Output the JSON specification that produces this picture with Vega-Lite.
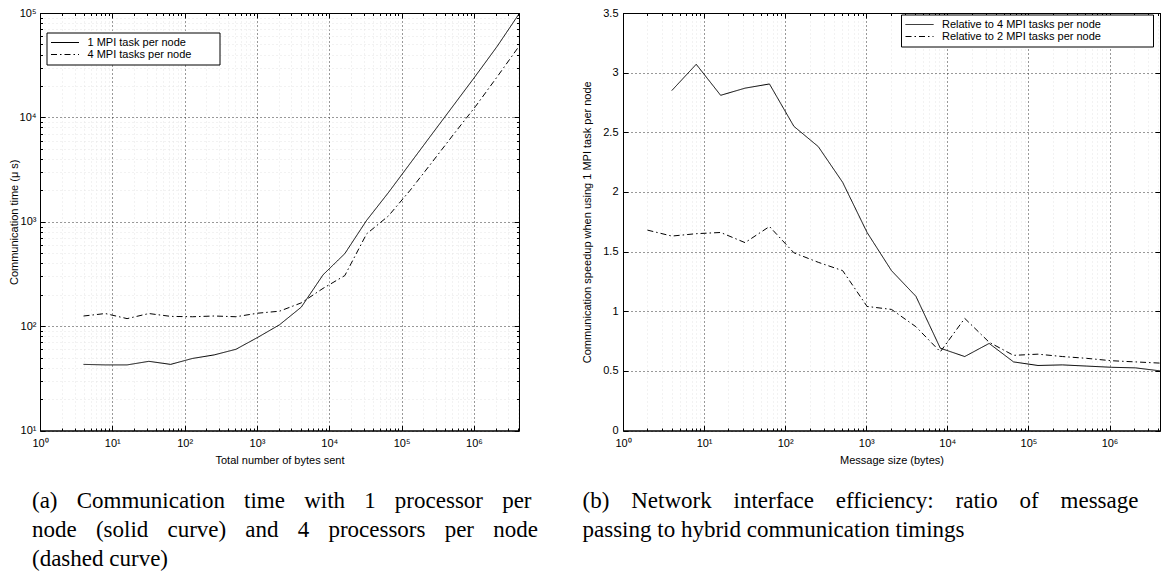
{
  "$schema": "https://vega.github.io/schema/vega-lite/v6.json",
  "background": "white",
  "padding": {"left": 8, "top": 6, "right": 0, "bottom": 4},
  "spacing": 104,
  "bounds": "flush",
  "resolve": {"scale": {"strokeDash": "independent"}, "legend": {"strokeDash": "independent"}},
  "datasets": {
    "timing": [
      {"bytes": 4, "time": 43, "series": "1 MPI task per node"},
      {"bytes": 8, "time": 42.5, "series": "1 MPI task per node"},
      {"bytes": 16, "time": 42.5, "series": "1 MPI task per node"},
      {"bytes": 32, "time": 46, "series": "1 MPI task per node"},
      {"bytes": 64, "time": 43, "series": "1 MPI task per node"},
      {"bytes": 128, "time": 49, "series": "1 MPI task per node"},
      {"bytes": 256, "time": 53, "series": "1 MPI task per node"},
      {"bytes": 512, "time": 60, "series": "1 MPI task per node"},
      {"bytes": 1024, "time": 78, "series": "1 MPI task per node"},
      {"bytes": 2048, "time": 103, "series": "1 MPI task per node"},
      {"bytes": 4096, "time": 152, "series": "1 MPI task per node"},
      {"bytes": 8192, "time": 310, "series": "1 MPI task per node"},
      {"bytes": 16384, "time": 495, "series": "1 MPI task per node"},
      {"bytes": 32768, "time": 1030, "series": "1 MPI task per node"},
      {"bytes": 65536, "time": 1900, "series": "1 MPI task per node"},
      {"bytes": 131072, "time": 3620, "series": "1 MPI task per node"},
      {"bytes": 262144, "time": 6900, "series": "1 MPI task per node"},
      {"bytes": 524288, "time": 13100, "series": "1 MPI task per node"},
      {"bytes": 1048576, "time": 24900, "series": "1 MPI task per node"},
      {"bytes": 2097152, "time": 48000, "series": "1 MPI task per node"},
      {"bytes": 4194304, "time": 98000, "series": "1 MPI task per node"},
      {"bytes": 4, "time": 125, "series": "4 MPI tasks per node"},
      {"bytes": 8, "time": 132, "series": "4 MPI tasks per node"},
      {"bytes": 16, "time": 118, "series": "4 MPI tasks per node"},
      {"bytes": 32, "time": 132, "series": "4 MPI tasks per node"},
      {"bytes": 64, "time": 124, "series": "4 MPI tasks per node"},
      {"bytes": 128, "time": 123, "series": "4 MPI tasks per node"},
      {"bytes": 256, "time": 125, "series": "4 MPI tasks per node"},
      {"bytes": 512, "time": 123, "series": "4 MPI tasks per node"},
      {"bytes": 1024, "time": 133, "series": "4 MPI tasks per node"},
      {"bytes": 2048, "time": 139, "series": "4 MPI tasks per node"},
      {"bytes": 4096, "time": 167, "series": "4 MPI tasks per node"},
      {"bytes": 8192, "time": 230, "series": "4 MPI tasks per node"},
      {"bytes": 16384, "time": 305, "series": "4 MPI tasks per node"},
      {"bytes": 32768, "time": 765, "series": "4 MPI tasks per node"},
      {"bytes": 65536, "time": 1135, "series": "4 MPI tasks per node"},
      {"bytes": 131072, "time": 2000, "series": "4 MPI tasks per node"},
      {"bytes": 262144, "time": 3700, "series": "4 MPI tasks per node"},
      {"bytes": 524288, "time": 6900, "series": "4 MPI tasks per node"},
      {"bytes": 1048576, "time": 12700, "series": "4 MPI tasks per node"},
      {"bytes": 2097152, "time": 24500, "series": "4 MPI tasks per node"},
      {"bytes": 4194304, "time": 48000, "series": "4 MPI tasks per node"}
    ],
    "speedup": [
      {"size": 4, "ratio": 2.85, "series": "Relative to 4 MPI tasks per node"},
      {"size": 8, "ratio": 3.07, "series": "Relative to 4 MPI tasks per node"},
      {"size": 16, "ratio": 2.81, "series": "Relative to 4 MPI tasks per node"},
      {"size": 32, "ratio": 2.87, "series": "Relative to 4 MPI tasks per node"},
      {"size": 64, "ratio": 2.905, "series": "Relative to 4 MPI tasks per node"},
      {"size": 128, "ratio": 2.55, "series": "Relative to 4 MPI tasks per node"},
      {"size": 256, "ratio": 2.38, "series": "Relative to 4 MPI tasks per node"},
      {"size": 512, "ratio": 2.08, "series": "Relative to 4 MPI tasks per node"},
      {"size": 1024, "ratio": 1.66, "series": "Relative to 4 MPI tasks per node"},
      {"size": 2048, "ratio": 1.34, "series": "Relative to 4 MPI tasks per node"},
      {"size": 4096, "ratio": 1.125, "series": "Relative to 4 MPI tasks per node"},
      {"size": 8192, "ratio": 0.69, "series": "Relative to 4 MPI tasks per node"},
      {"size": 16384, "ratio": 0.62, "series": "Relative to 4 MPI tasks per node"},
      {"size": 32768, "ratio": 0.73, "series": "Relative to 4 MPI tasks per node"},
      {"size": 65536, "ratio": 0.575, "series": "Relative to 4 MPI tasks per node"},
      {"size": 131072, "ratio": 0.545, "series": "Relative to 4 MPI tasks per node"},
      {"size": 262144, "ratio": 0.55, "series": "Relative to 4 MPI tasks per node"},
      {"size": 524288, "ratio": 0.54, "series": "Relative to 4 MPI tasks per node"},
      {"size": 1048576, "ratio": 0.53, "series": "Relative to 4 MPI tasks per node"},
      {"size": 2097152, "ratio": 0.525, "series": "Relative to 4 MPI tasks per node"},
      {"size": 4194304, "ratio": 0.5, "series": "Relative to 4 MPI tasks per node"},
      {"size": 2, "ratio": 1.68, "series": "Relative to 2 MPI tasks per node"},
      {"size": 4, "ratio": 1.63, "series": "Relative to 2 MPI tasks per node"},
      {"size": 8, "ratio": 1.65, "series": "Relative to 2 MPI tasks per node"},
      {"size": 16, "ratio": 1.66, "series": "Relative to 2 MPI tasks per node"},
      {"size": 32, "ratio": 1.575, "series": "Relative to 2 MPI tasks per node"},
      {"size": 64, "ratio": 1.71, "series": "Relative to 2 MPI tasks per node"},
      {"size": 128, "ratio": 1.49, "series": "Relative to 2 MPI tasks per node"},
      {"size": 256, "ratio": 1.41, "series": "Relative to 2 MPI tasks per node"},
      {"size": 512, "ratio": 1.34, "series": "Relative to 2 MPI tasks per node"},
      {"size": 1024, "ratio": 1.04, "series": "Relative to 2 MPI tasks per node"},
      {"size": 2048, "ratio": 1.015, "series": "Relative to 2 MPI tasks per node"},
      {"size": 4096, "ratio": 0.87, "series": "Relative to 2 MPI tasks per node"},
      {"size": 8192, "ratio": 0.66, "series": "Relative to 2 MPI tasks per node"},
      {"size": 16384, "ratio": 0.94, "series": "Relative to 2 MPI tasks per node"},
      {"size": 32768, "ratio": 0.74, "series": "Relative to 2 MPI tasks per node"},
      {"size": 65536, "ratio": 0.63, "series": "Relative to 2 MPI tasks per node"},
      {"size": 131072, "ratio": 0.64, "series": "Relative to 2 MPI tasks per node"},
      {"size": 262144, "ratio": 0.62, "series": "Relative to 2 MPI tasks per node"},
      {"size": 524288, "ratio": 0.605, "series": "Relative to 2 MPI tasks per node"},
      {"size": 1048576, "ratio": 0.585, "series": "Relative to 2 MPI tasks per node"},
      {"size": 2097152, "ratio": 0.575, "series": "Relative to 2 MPI tasks per node"},
      {"size": 4194304, "ratio": 0.565, "series": "Relative to 2 MPI tasks per node"}
    ]
  },
  "config": {
    "font": "Liberation Sans",
    "view": {"stroke": "black", "strokeWidth": 1},
    "axis": {
      "labelFont": "Liberation Sans",
      "labelFontSize": 11,
      "labelColor": "black",
      "labelFlush": false,
      "labelOverlap": false,
      "titleFont": "Liberation Sans",
      "titleFontSize": 11,
      "titleFontWeight": "normal",
      "titleColor": "black",
      "domainColor": "black",
      "domainWidth": 1,
      "tickColor": "black",
      "tickWidth": 1,
      "gridDash": [1, 3],
      "gridWidth": 1
    },
    "legend": {
      "title": null,
      "orient": "none",
      "symbolType": "stroke",
      "symbolSize": 784,
      "symbolStrokeWidth": 1,
      "symbolStrokeColor": "black",
      "labelFont": "Liberation Sans",
      "labelFontSize": 11,
      "labelColor": "black",
      "labelOffset": 8,
      "labelLimit": 400,
      "strokeColor": "black",
      "fillColor": "white",
      "padding": 4,
      "clipHeight": 12,
      "rowPadding": 0
    },
    "title": {
      "font": "Liberation Serif",
      "fontSize": 23,
      "fontWeight": "normal",
      "color": "black",
      "lineHeight": 29,
      "orient": "bottom",
      "anchor": "start",
      "frame": "group"
    }
  },
  "hconcat": [
    {
      "width": 479,
      "height": 417.5,
      "title": {
        "text": ["(a) \u2002\u200aCommunication \u2002\u200atime \u2002\u200awith \u2002\u200a1 \u2002\u200aprocessor \u2002\u200aper", "node \u2002\u200a(solid \u2002\u200acurve) \u2002\u200aand \u2002\u200a4 \u2002\u200aprocessors \u2002\u200aper \u2002\u200anode", "(dashed curve)"],
        "dx": -8,
        "offset": 25
      },
      "data": {"name": "timing"},
      "encoding": {
        "strokeDash": {
          "field": "series",
          "type": "nominal",
          "scale": {"domain": ["1 MPI task per node", "4 MPI tasks per node"], "range": [[1, 0], [6, 3, 1.5, 3]]},
          "legend": {"legendX": 6.5, "legendY": 19.5, "labelExpr": "datum.label + '\u2800\u2800\u2800'"}
        }
      },
      "layer": [
        {
          "transform": [{"filter": "datum.series === '1 MPI task per node'"}],
          "mark": {"type": "line", "color": "black", "strokeWidth": 1},
          "encoding": {
            "x": {
              "field": "bytes", "type": "quantitative",
              "scale": {"type": "log", "domain": [1, 4194304], "nice": false},
              "axis": {
                "orient": "bottom",
                "title": "Total number of bytes sent",
                "values": [1,2,3,4,5,6,7,8,9,10,20,30,40,50,60,70,80,90,100,200,300,400,500,600,700,800,900,1000,2000,3000,4000,5000,6000,7000,8000,9000,10000,20000,30000,40000,50000,60000,70000,80000,90000,100000,200000,300000,400000,500000,600000,700000,800000,900000,1000000,2000000,3000000,4000000],
                "labelExpr": "abs(log(datum.value)/LN10 - round(log(datum.value)/LN10)) < 0.001 ? '10' + ['⁰','¹','²','³','⁴','⁵','⁶'][round(log(datum.value)/LN10)] : ''",
                "tickSize": {"condition": {"test": "abs(log(datum.value)/LN10 - round(log(datum.value)/LN10)) < 0.001", "value": -5}, "value": -2.5},
                "gridColor": {"condition": {"test": "abs(log(datum.value)/LN10 - round(log(datum.value)/LN10)) < 0.001", "value": "#333333"}, "value": "#e4e4e4"},
                "labelPadding": 12,
                "titlePadding": 3
              }
            },
            "y": {
              "field": "time", "type": "quantitative",
              "scale": {"type": "log", "domain": [10, 100000], "nice": false},
              "axis": {
                "orient": "left",
                "title": "Communication time (μ s)",
                "titleX": -20.5,
                "values": [10,20,30,40,50,60,70,80,90,100,200,300,400,500,600,700,800,900,1000,2000,3000,4000,5000,6000,7000,8000,9000,10000,20000,30000,40000,50000,60000,70000,80000,90000,100000],
                "labelExpr": "abs(log(datum.value)/LN10 - round(log(datum.value)/LN10)) < 0.001 ? '10' + ['⁰','¹','²','³','⁴','⁵','⁶'][round(log(datum.value)/LN10)] : ''",
                "tickSize": {"condition": {"test": "abs(log(datum.value)/LN10 - round(log(datum.value)/LN10)) < 0.001", "value": -5}, "value": -2.5},
                "gridColor": {"condition": {"test": "abs(log(datum.value)/LN10 - round(log(datum.value)/LN10)) < 0.001", "value": "#333333"}, "value": "#e4e4e4"},
                "labelPadding": 9
              }
            }
          }
        },
        {
          "transform": [{"filter": "datum.series === '4 MPI tasks per node'"}],
          "mark": {"type": "line", "color": "black", "strokeWidth": 1},
          "encoding": {
            "x": {
              "field": "bytes", "type": "quantitative",
              "scale": {"type": "log", "domain": [1, 4194304], "nice": false},
              "axis": {
                "orient": "top",
                "title": null,
                "labels": false,
                "grid": false,
                "values": [1,2,3,4,5,6,7,8,9,10,20,30,40,50,60,70,80,90,100,200,300,400,500,600,700,800,900,1000,2000,3000,4000,5000,6000,7000,8000,9000,10000,20000,30000,40000,50000,60000,70000,80000,90000,100000,200000,300000,400000,500000,600000,700000,800000,900000,1000000,2000000,3000000,4000000],
                "tickSize": {"condition": {"test": "abs(log(datum.value)/LN10 - round(log(datum.value)/LN10)) < 0.001", "value": -5}, "value": -2.5}
              }
            },
            "y": {
              "field": "time", "type": "quantitative",
              "scale": {"type": "log", "domain": [10, 100000], "nice": false},
              "axis": {
                "orient": "right",
                "title": null,
                "labels": false,
                "grid": false,
                "values": [10,20,30,40,50,60,70,80,90,100,200,300,400,500,600,700,800,900,1000,2000,3000,4000,5000,6000,7000,8000,9000,10000,20000,30000,40000,50000,60000,70000,80000,90000,100000],
                "tickSize": {"condition": {"test": "abs(log(datum.value)/LN10 - round(log(datum.value)/LN10)) < 0.001", "value": -5}, "value": -2.5}
              }
            }
          }
        }
      ],
      "resolve": {"axis": {"x": "independent", "y": "independent"}}
    },
    {
      "width": 537,
      "height": 417.5,
      "title": {
        "text": ["(b) \u2002\u2009Network \u2002\u2009interface \u2002\u2009efficiency: \u2002\u2009ratio \u2002\u2009of \u2002\u2009message", "passing to hybrid communication timings"],
        "dx": -40.5,
        "offset": 25
      },
      "data": {"name": "speedup"},
      "encoding": {
        "strokeDash": {
          "field": "series",
          "type": "nominal",
          "scale": {"domain": ["Relative to 4 MPI tasks per node", "Relative to 2 MPI tasks per node"], "range": [[1, 0], [6, 3, 1.5, 3]]},
          "legend": {"legendX": 278, "legendY": 1.5, "labelExpr": "datum.label + '\u2800\u2800\u2800\u2800\u2800\u2800'"}
        }
      },
      "layer": [
        {
          "transform": [{"filter": "datum.series === 'Relative to 4 MPI tasks per node'"}],
          "mark": {"type": "line", "color": "black", "strokeWidth": 1},
          "encoding": {
            "x": {
              "field": "size", "type": "quantitative",
              "scale": {"type": "log", "domain": [1, 4194304], "nice": false},
              "axis": {
                "orient": "bottom",
                "title": "Message size (bytes)",
                "values": [1,2,3,4,5,6,7,8,9,10,20,30,40,50,60,70,80,90,100,200,300,400,500,600,700,800,900,1000,2000,3000,4000,5000,6000,7000,8000,9000,10000,20000,30000,40000,50000,60000,70000,80000,90000,100000,200000,300000,400000,500000,600000,700000,800000,900000,1000000,2000000,3000000,4000000],
                "labelExpr": "abs(log(datum.value)/LN10 - round(log(datum.value)/LN10)) < 0.001 ? '10' + ['⁰','¹','²','³','⁴','⁵','⁶'][round(log(datum.value)/LN10)] : ''",
                "tickSize": {"condition": {"test": "abs(log(datum.value)/LN10 - round(log(datum.value)/LN10)) < 0.001", "value": -5}, "value": -2.5},
                "gridColor": {"condition": {"test": "abs(log(datum.value)/LN10 - round(log(datum.value)/LN10)) < 0.001", "value": "#333333"}, "value": "#e4e4e4"},
                "labelPadding": 12,
                "titlePadding": 3
              }
            },
            "y": {
              "field": "ratio", "type": "quantitative",
              "scale": {"domain": [0, 3.5], "nice": false},
              "axis": {
                "orient": "left",
                "title": "Communication speedup when using 1 MPI task per node",
                "titleX": -30.5,
                "values": [0, 0.5, 1, 1.5, 2, 2.5, 3, 3.5],
                "format": "~g",
                "tickSize": -5,
                "gridColor": "#333333",
                "labelPadding": 10
              }
            }
          }
        },
        {
          "transform": [{"filter": "datum.series === 'Relative to 2 MPI tasks per node'"}],
          "mark": {"type": "line", "color": "black", "strokeWidth": 1},
          "encoding": {
            "x": {
              "field": "size", "type": "quantitative",
              "scale": {"type": "log", "domain": [1, 4194304], "nice": false},
              "axis": {
                "orient": "top",
                "title": null,
                "labels": false,
                "grid": false,
                "values": [1,2,3,4,5,6,7,8,9,10,20,30,40,50,60,70,80,90,100,200,300,400,500,600,700,800,900,1000,2000,3000,4000,5000,6000,7000,8000,9000,10000,20000,30000,40000,50000,60000,70000,80000,90000,100000,200000,300000,400000,500000,600000,700000,800000,900000,1000000,2000000,3000000,4000000],
                "tickSize": {"condition": {"test": "abs(log(datum.value)/LN10 - round(log(datum.value)/LN10)) < 0.001", "value": -5}, "value": -2.5}
              }
            },
            "y": {
              "field": "ratio", "type": "quantitative",
              "scale": {"domain": [0, 3.5], "nice": false},
              "axis": {
                "orient": "right",
                "title": null,
                "labels": false,
                "grid": false,
                "values": [0, 0.5, 1, 1.5, 2, 2.5, 3, 3.5],
                "tickSize": -5
              }
            }
          }
        }
      ],
      "resolve": {"axis": {"x": "independent", "y": "independent"}}
    }
  ]
}
